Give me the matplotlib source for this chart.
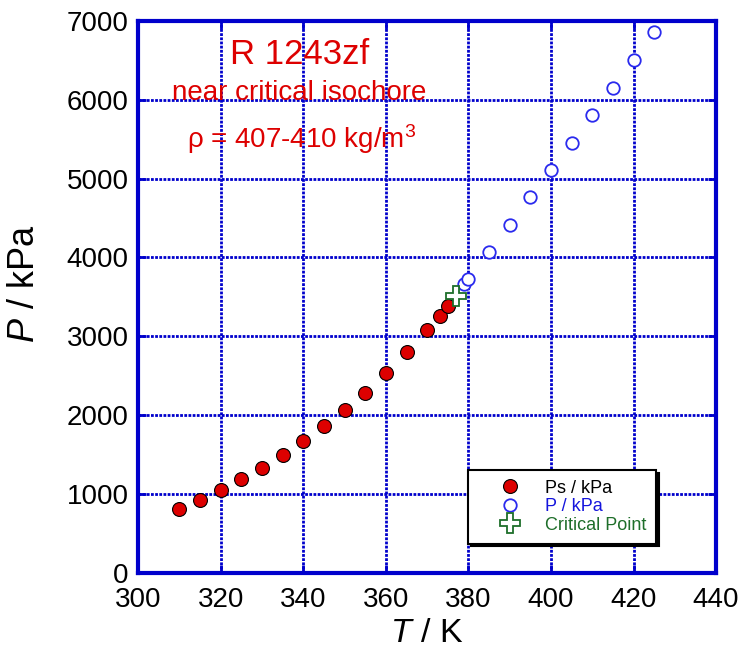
import matplotlib
matplotlib.use("Agg")
import matplotlib.pyplot as plt

plt.rcParams['font.family'] = ['Liberation Sans', 'DejaVu Sans']
plt.rcParams['mathtext.fontset'] = 'custom'
plt.rcParams['mathtext.it'] = 'Liberation Sans:italic'
plt.rcParams['mathtext.rm'] = 'Liberation Sans'

# Saturation pressure (two-phase region)
t_sat = [310, 315, 320, 325, 330, 335, 340, 345, 350, 355, 360, 365, 370, 373, 375]
p_sat = [818, 929, 1056, 1187, 1335, 1496, 1670, 1860, 2067, 2288, 2530, 2797, 3076, 3262, 3389]

# Single-phase pressure along the isochore
t_sup = [379, 380, 385, 390, 395, 400, 405, 410, 415, 420, 425]
p_sup = [3665, 3728, 4067, 4414, 4761, 5104, 5456, 5803, 6151, 6502, 6854]

# Critical point
t_crit = [376.93]
p_crit = [3517.9]

x_ticks = [300, 320, 340, 360, 380, 400, 420, 440]
y_ticks = [0, 1000, 2000, 3000, 4000, 5000, 6000, 7000]

blue = '#0000cc'

fig = plt.figure(figsize=(7.39, 6.49), dpi=100)
ax = fig.add_axes([0.187, 0.117, 0.782, 0.851])

ax.set_xlim(300, 440)
ax.set_ylim(0, 7000)
ax.set_xticks(x_ticks)
ax.set_yticks(y_ticks)

ax.grid(True, color=blue, linestyle=(0, (1, 0.5)), linewidth=2.0)
ax.set_axisbelow(True)
for s in ax.spines.values():
    s.set_color(blue)
    s.set_linewidth(3)
ax.tick_params(direction='in', length=6, width=2, color=blue,
               top=True, right=True, labelsize=20)
ax.tick_params(axis='x', pad=10)
ax.tick_params(axis='y', pad=7)

ax.plot(t_sat, p_sat, 'o', ms=10, mfc='#dd0000', mec='black', mew=0.8,
        label='Ps / kPa', zorder=4)
ax.plot(t_sup, p_sup, 'o', ms=9, mfc='white', mec='#2a2aee', mew=1.3,
        label='P / kPa', zorder=3)
ax.plot(t_crit, p_crit, 'P', ms=15, mfc='white', mec='#1e6e2a', mew=1.3,
        label='Critical Point', zorder=5)

ax.text(339.2, 6570, 'R 1243zf', color='#dd0000', fontsize=25,
        ha='center', va='center')
ax.text(339.0, 6090, 'near critical isochore', color='#dd0000', fontsize=20,
        ha='center', va='center')
ax.text(339.6, 5500, r'ρ = 407-410 kg/m$^{3}$', color='#dd0000', fontsize=20,
        ha='center', va='center')

ax.set_xlabel(r'$\mathit{T}$ / K', fontsize=24.5)
ax.xaxis.set_label_coords(0.5, -0.081)
ax.set_ylabel(r'$\mathit{P}$ / kPa', fontsize=26)
ax.yaxis.set_label_coords(-0.166, 0.524)

leg = ax.legend(loc='upper left', bbox_to_anchor=(0.571, 0.187),
                fontsize=13, frameon=True, fancybox=False,
                shadow={'color': 'black', 'alpha': 1},
                borderpad=0.55, labelspacing=0.08, handletextpad=0.2,
                handlelength=3.5, borderaxespad=0)
leg.get_frame().set_edgecolor('black')
leg.get_frame().set_linewidth(1.5)
leg.get_frame().set_alpha(1)
for txt, c in zip(leg.get_texts(), ['black', '#1515dd', '#1e6e2a']):
    txt.set_color(c)

fig.savefig('out.png', dpi=100)
